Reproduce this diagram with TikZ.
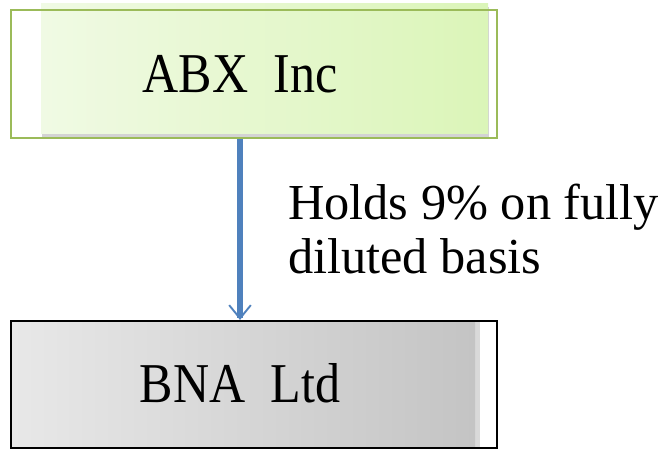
\documentclass[tikz,border=0pt]{standalone}
\usepackage{fontspec}
\setmainfont{Liberation Serif}
\usetikzlibrary{arrows.meta,shadows}
\definecolor{abxleft}{HTML}{F0FAE4}
\definecolor{abxright}{HTML}{DBF5B8}
\definecolor{abxline}{HTML}{9BBB59}
\definecolor{bnaleft}{HTML}{E8E8E8}
\definecolor{bnaright}{HTML}{C4C4C4}
\definecolor{linkblue}{HTML}{4F81BD}

\begin{document}
\begin{tikzpicture}
        [   x = 0.03cm
        ,   y = -0.03cm
        ,   outline/.style =
            {   draw
            ,   line width = 1.8pt
            ,   minimum width = 14.58cm
            ,   inner sep = 0pt
            }
        ,   firm/.style =
            {   font = \fontsize{48}{56}\selectfont
            ,   anchor = base
            ,   inner sep = 0pt
            ,   xscale = 0.89
            ,   transform shape
            }
        ,   link/.style =
            {   draw = linkblue
            ,   line width = 4.5pt
            ,   -{Straight Barb[length = 0.4cm, width = 0.65cm, line width = 1.6pt]}
            }
        ]
        \useasboundingbox (0,0) rectangle (666,449);
        % shaded faces
        \path [   left color = abxleft, right color = abxright
              ,   drop shadow = {shadow xshift = 0.03cm, shadow yshift = -0.12cm, opacity = 0.35}
              ] (41,3) rectangle (488,133);
        \path [   left color = bnaleft, right color = bnaright
              ,   drop shadow = {shadow xshift = 0.15cm, shadow yshift = 0cm, opacity = 0.3}
              ] (11,322) rectangle (475,448);
        % boxes
        \node [outline, draw = abxline, minimum height = 3.84cm] (abx) at (254,74) {};
        \node [outline, draw = black, minimum height = 3.81cm] (bna) at (254,384.5) {};
        \node [firm] (abxtext) at (240,92) {ABX\ \ Inc};
        \node [firm] (bnatext) at (240,402) {BNA\ \ Ltd};
        % holding
        \draw [link] (abxtext |- abx.south) -- (abxtext |- bna.north);
        \node [   anchor = base west, align = left, inner sep = 0pt
              ,   font = \fontsize{43}{46}\selectfont
              ] (holds) at (288,273) {Holds 9\% on fully\\diluted basis};
\end{tikzpicture}
\end{document}
